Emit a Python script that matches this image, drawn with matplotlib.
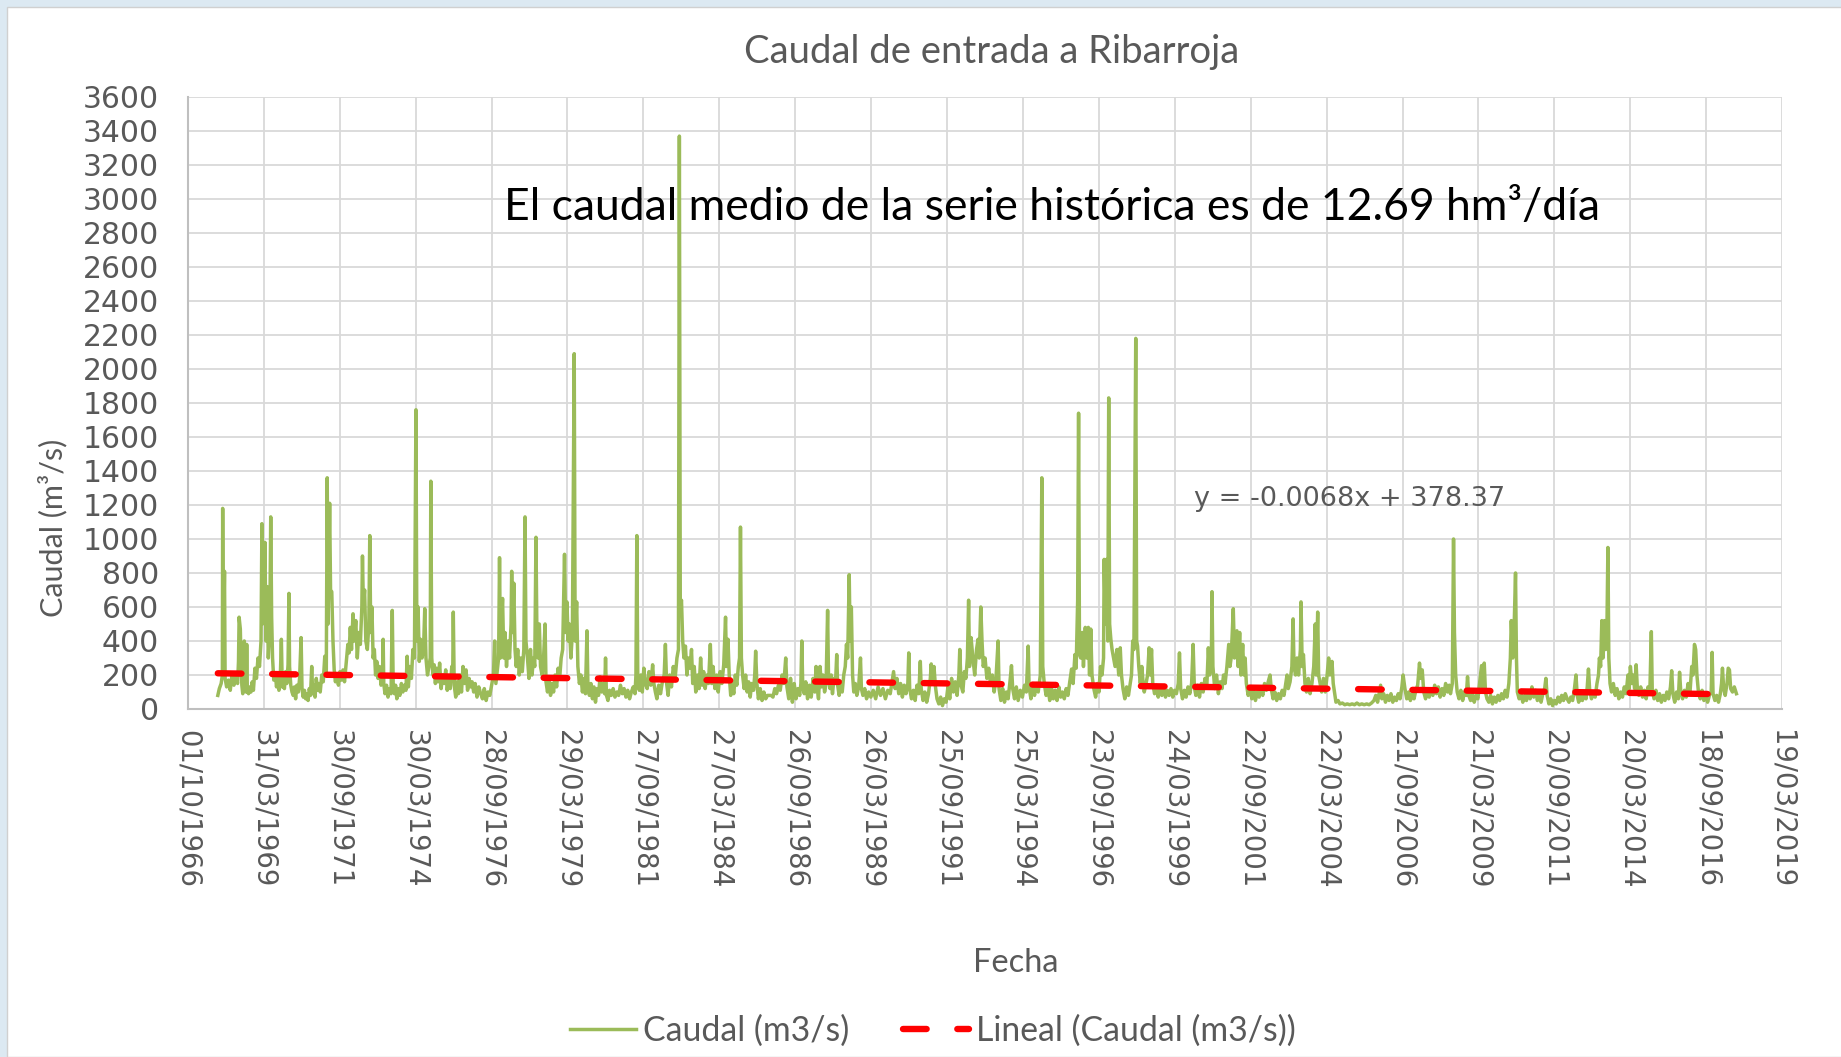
import matplotlib
matplotlib.use('Agg')
import matplotlib.pyplot as plt
import matplotlib.dates as mdates
import matplotlib.patches as mpatches
from datetime import datetime, timedelta

# ---------------- DATA ----------------
titulo = "Caudal de entrada a Ribarroja"
nota = "El caudal medio de la serie histórica es de 12.69 hm³/día"
ecuacion = "y = -0.0068x + 378.37"
pendiente = -0.0068
ordenada = 378.37

etiquetas_x = ["01/10/1966", "31/03/1969", "30/09/1971", "30/03/1974", "28/09/1976",
               "29/03/1979", "27/09/1981", "27/03/1984", "26/09/1986", "26/03/1989",
               "25/09/1991", "25/03/1994", "23/09/1996", "24/03/1999", "22/09/2001",
               "22/03/2004", "21/09/2006", "21/03/2009", "20/09/2011", "20/03/2014",
               "18/09/2016", "19/03/2019"]
ticks_y = list(range(0, 3601, 200))

# (decimal year, caudal m3/s)
caudal_1967_1971 = [
    (1967.73, 80), (1967.78, 120), (1967.84, 150), (1967.88, 200), (1967.89, 1180), (1967.91, 300),
    (1967.95, 810), (1967.97, 180), (1968.02, 130), (1968.08, 170), (1968.14, 110), (1968.20, 210),
    (1968.26, 140), (1968.32, 190), (1968.38, 150), (1968.41, 280), (1968.43, 540), (1968.47, 470),
    (1968.49, 300), (1968.52, 140), (1968.55, 90), (1968.58, 200), (1968.60, 400), (1968.62, 120),
    (1968.66, 100), (1968.68, 380), (1968.70, 110), (1968.74, 90), (1968.78, 130), (1968.82, 100),
    (1968.86, 160), (1968.90, 110), (1968.95, 240), (1969.00, 180), (1969.05, 300), (1969.10, 250),
    (1969.15, 400), (1969.18, 1090), (1969.20, 500), (1969.24, 700), (1969.28, 980), (1969.31, 400),
    (1969.35, 720), (1969.39, 300), (1969.44, 500), (1969.47, 1130), (1969.50, 540), (1969.53, 300),
    (1969.57, 170), (1969.62, 210), (1969.66, 130), (1969.70, 180), (1969.74, 110), (1969.78, 150),
    (1969.82, 410), (1969.85, 130), (1969.88, 200), (1969.92, 120), (1969.96, 220), (1970.00, 150),
    (1970.04, 260), (1970.07, 680), (1970.09, 250), (1970.13, 140), (1970.17, 100), (1970.21, 80),
    (1970.25, 130), (1970.29, 60), (1970.33, 140), (1970.38, 100), (1970.42, 180), (1970.47, 420),
    (1970.50, 120), (1970.54, 70), (1970.58, 110), (1970.62, 60), (1970.66, 90), (1970.70, 50),
    (1970.74, 120), (1970.78, 80), (1970.82, 250), (1970.85, 90), (1970.89, 140), (1970.93, 70),
    (1970.97, 180), (1971.01, 110), (1971.05, 150), (1971.10, 100), (1971.15, 200), (1971.20, 160),
    (1971.25, 310), (1971.30, 220), (1971.33, 1360), (1971.36, 500), (1971.41, 1210), (1971.44, 700),
    (1971.48, 690), (1971.52, 400), (1971.56, 230), (1971.60, 160), (1971.65, 200), (1971.70, 140),
    (1971.75, 220), (1971.80, 170), (1971.85, 230), (1971.90, 160), (1971.96, 280),
]

caudal_1972_1976 = [
    (1972.01, 380), (1972.05, 330), (1972.09, 480), (1972.13, 350), (1972.18, 560), (1972.22, 400),
    (1972.27, 520), (1972.32, 300), (1972.37, 450), (1972.42, 380), (1972.47, 600), (1972.49, 900),
    (1972.52, 600), (1972.56, 700), (1972.60, 400), (1972.65, 350), (1972.70, 500), (1972.73, 1020),
    (1972.76, 450), (1972.80, 600), (1972.84, 300), (1972.88, 350), (1972.92, 200), (1972.96, 280),
    (1973.00, 180), (1973.05, 250), (1973.10, 140), (1973.15, 200), (1973.17, 410), (1973.19, 150),
    (1973.23, 90), (1973.28, 140), (1973.33, 70), (1973.38, 120), (1973.43, 90), (1973.47, 580),
    (1973.50, 150), (1973.54, 90), (1973.58, 140), (1973.62, 60), (1973.67, 120), (1973.72, 80),
    (1973.77, 150), (1973.82, 100), (1973.87, 140), (1973.92, 110), (1973.96, 310), (1974.00, 130),
    (1974.05, 250), (1974.10, 180), (1974.15, 350), (1974.20, 300), (1974.25, 1760), (1974.28, 400),
    (1974.32, 600), (1974.36, 280), (1974.40, 410), (1974.45, 300), (1974.50, 350), (1974.54, 590),
    (1974.58, 300), (1974.63, 200), (1974.68, 250), (1974.72, 300), (1974.74, 1340), (1974.77, 300),
    (1974.81, 200), (1974.85, 260), (1974.89, 150), (1974.93, 240), (1974.98, 160), (1975.03, 270),
    (1975.08, 120), (1975.13, 200), (1975.18, 150), (1975.23, 230), (1975.28, 110), (1975.33, 180),
    (1975.38, 120), (1975.43, 250), (1975.46, 180), (1975.48, 570), (1975.51, 140), (1975.56, 70),
    (1975.60, 160), (1975.65, 90), (1975.70, 200), (1975.75, 100), (1975.80, 250), (1975.85, 150),
    (1975.90, 230), (1975.95, 110), (1976.00, 180), (1976.05, 130), (1976.10, 160), (1976.15, 100),
    (1976.20, 150), (1976.26, 70), (1976.32, 130), (1976.38, 90), (1976.44, 60), (1976.50, 120),
    (1976.56, 50), (1976.62, 100), (1976.68, 80), (1976.74, 140), (1976.80, 200), (1976.84, 400),
    (1976.88, 150), (1976.94, 250), (1976.97, 300),
]

caudal_1977_1986 = [
    (1977.00, 890), (1977.03, 300), (1977.06, 500), (1977.10, 650), (1977.14, 300), (1977.18, 450),
    (1977.23, 250), (1977.28, 400), (1977.33, 300), (1977.38, 500), (1977.40, 810), (1977.43, 450),
    (1977.47, 740), (1977.51, 350), (1977.55, 250), (1977.60, 350), (1977.65, 200), (1977.70, 300),
    (1977.75, 220), (1977.80, 350), (1977.84, 1130), (1977.87, 400), (1977.92, 300), (1977.97, 180),
    (1978.02, 350), (1978.07, 200), (1978.12, 300), (1978.16, 250), (1978.20, 1010), (1978.23, 450),
    (1978.27, 300), (1978.31, 500), (1978.35, 250), (1978.40, 200), (1978.45, 300), (1978.50, 500),
    (1978.53, 160), (1978.58, 100), (1978.63, 180), (1978.68, 80), (1978.73, 150), (1978.78, 100),
    (1978.83, 200), (1978.88, 130), (1978.93, 240), (1978.98, 180), (1979.03, 300), (1979.08, 350),
    (1979.14, 910), (1979.18, 450), (1979.22, 630), (1979.26, 400), (1979.30, 500), (1979.35, 300),
    (1979.40, 450), (1979.46, 2090), (1979.49, 400), (1979.54, 630), (1979.58, 250), (1979.63, 150),
    (1979.68, 200), (1979.73, 100), (1979.78, 180), (1979.83, 90), (1979.88, 460), (1979.91, 150),
    (1979.96, 80), (1980.01, 150), (1980.06, 60), (1980.11, 130), (1980.16, 40), (1980.21, 120),
    (1980.26, 80), (1980.31, 190), (1980.36, 100), (1980.41, 150), (1980.46, 90), (1980.49, 300),
    (1980.52, 80), (1980.57, 50), (1980.62, 110), (1980.68, 80), (1980.74, 120), (1980.80, 70),
    (1980.86, 100), (1980.92, 80), (1980.98, 140), (1981.04, 90), (1981.10, 120), (1981.16, 70),
    (1981.22, 110), (1981.28, 60), (1981.34, 100), (1981.40, 130), (1981.46, 90), (1981.49, 200),
    (1981.52, 1020), (1981.55, 180), (1981.60, 110), (1981.65, 200), (1981.70, 100), (1981.75, 240),
    (1981.80, 150), (1981.86, 120), (1981.92, 220), (1981.98, 140), (1982.04, 260), (1982.08, 150),
    (1982.13, 100), (1982.18, 60), (1982.24, 140), (1982.30, 90), (1982.36, 160), (1982.42, 200),
    (1982.46, 380), (1982.50, 150), (1982.55, 80), (1982.60, 200), (1982.66, 130), (1982.72, 250),
    (1982.78, 180), (1982.84, 300), (1982.89, 350), (1982.92, 3370), (1982.95, 600), (1982.99, 640),
    (1983.03, 400), (1983.07, 300), (1983.12, 370), (1983.17, 200), (1983.22, 300), (1983.27, 240),
    (1983.32, 350), (1983.36, 150), (1983.41, 250), (1983.46, 100), (1983.52, 200), (1983.57, 120),
    (1983.62, 300), (1983.67, 140), (1983.72, 220), (1983.77, 120), (1983.83, 200), (1983.88, 150),
    (1983.94, 380), (1983.98, 150), (1984.03, 250), (1984.09, 120), (1984.15, 200), (1984.20, 100),
    (1984.26, 220), (1984.32, 150), (1984.38, 260), (1984.44, 540), (1984.47, 250), (1984.52, 410),
    (1984.56, 200), (1984.61, 80), (1984.66, 150), (1984.71, 90), (1984.76, 200), (1984.81, 140),
    (1984.86, 250), (1984.90, 300), (1984.93, 1070), (1984.96, 300), (1985.00, 200), (1985.05, 120),
    (1985.10, 200), (1985.15, 100), (1985.20, 160), (1985.25, 70), (1985.30, 150), (1985.36, 110),
    (1985.40, 200), (1985.43, 340), (1985.47, 150), (1985.52, 60), (1985.58, 120), (1985.64, 50),
    (1985.70, 100), (1985.76, 60), (1985.82, 80), (1985.88, 80), (1985.94, 80), (1986.00, 70),
    (1986.06, 120), (1986.12, 90), (1986.18, 140), (1986.24, 110), (1986.30, 200), (1986.36, 150),
    (1986.42, 300), (1986.46, 130), (1986.52, 60), (1986.58, 180), (1986.64, 40), (1986.70, 150),
    (1986.76, 60), (1986.82, 120), (1986.88, 80), (1986.92, 150), (1986.95, 400), (1986.98, 140),
]

caudal_1987_1997 = [
    (1987.03, 90), (1987.08, 160), (1987.14, 60), (1987.20, 140), (1987.26, 70), (1987.32, 180),
    (1987.38, 100), (1987.42, 250), (1987.46, 120), (1987.50, 60), (1987.55, 250), (1987.60, 130),
    (1987.65, 200), (1987.70, 100), (1987.75, 150), (1987.80, 580), (1987.83, 180), (1987.88, 120),
    (1987.92, 200), (1987.96, 90), (1988.01, 180), (1988.06, 150), (1988.10, 320), (1988.13, 140),
    (1988.18, 80), (1988.23, 160), (1988.28, 100), (1988.33, 200), (1988.38, 250), (1988.42, 380),
    (1988.46, 300), (1988.51, 790), (1988.54, 400), (1988.58, 600), (1988.62, 200), (1988.66, 100),
    (1988.71, 150), (1988.76, 80), (1988.82, 130), (1988.88, 300), (1988.91, 120), (1988.96, 80),
    (1989.02, 120), (1989.08, 60), (1989.15, 100), (1989.22, 70), (1989.30, 110), (1989.38, 60),
    (1989.46, 130), (1989.54, 80), (1989.62, 120), (1989.70, 60), (1989.78, 110), (1989.86, 90),
    (1989.92, 160), (1989.97, 220), (1990.02, 120), (1990.08, 180), (1990.14, 90), (1990.20, 150),
    (1990.26, 70), (1990.32, 140), (1990.38, 90), (1990.44, 150), (1990.47, 330), (1990.50, 120),
    (1990.56, 60), (1990.62, 110), (1990.68, 50), (1990.74, 140), (1990.80, 90), (1990.85, 280),
    (1990.88, 120), (1990.94, 50), (1991.00, 100), (1991.06, 40), (1991.12, 90), (1991.18, 180),
    (1991.21, 265), (1991.25, 150), (1991.30, 250), (1991.35, 130), (1991.40, 60), (1991.46, 30),
    (1991.52, 70), (1991.58, 20), (1991.64, 60), (1991.70, 40), (1991.76, 130), (1991.82, 60),
    (1991.88, 180), (1991.94, 100), (1992.00, 160), (1992.06, 80), (1992.12, 200), (1992.15, 350),
    (1992.19, 140), (1992.25, 100), (1992.30, 220), (1992.35, 180), (1992.40, 300), (1992.44, 640),
    (1992.47, 250), (1992.52, 420), (1992.58, 300), (1992.64, 200), (1992.70, 350), (1992.75, 410),
    (1992.79, 300), (1992.84, 600), (1992.88, 400), (1992.92, 250), (1992.98, 300), (1993.04, 180),
    (1993.10, 240), (1993.16, 150), (1993.22, 200), (1993.28, 100), (1993.34, 180), (1993.41, 400),
    (1993.44, 120), (1993.50, 50), (1993.56, 120), (1993.62, 40), (1993.68, 100), (1993.74, 60),
    (1993.80, 160), (1993.85, 255), (1993.89, 120), (1993.95, 60), (1994.01, 130), (1994.07, 50),
    (1994.14, 110), (1994.21, 70), (1994.28, 140), (1994.34, 100), (1994.40, 370), (1994.43, 130),
    (1994.49, 60), (1994.55, 140), (1994.61, 80), (1994.67, 150), (1994.73, 100), (1994.80, 200),
    (1994.85, 1360), (1994.88, 250), (1994.93, 150), (1994.99, 80), (1995.05, 130), (1995.11, 50),
    (1995.17, 120), (1995.23, 60), (1995.29, 110), (1995.35, 50), (1995.41, 130), (1995.47, 70),
    (1995.53, 100), (1995.59, 60), (1995.65, 120), (1995.71, 80), (1995.77, 160), (1995.83, 235),
    (1995.88, 150), (1995.94, 320), (1995.98, 240), (1996.03, 640), (1996.06, 1740), (1996.09, 320),
    (1996.13, 300), (1996.18, 450), (1996.22, 250), (1996.28, 480), (1996.33, 300), (1996.38, 480),
    (1996.42, 200), (1996.46, 470), (1996.50, 200), (1996.56, 120), (1996.62, 70), (1996.68, 150),
    (1996.73, 100), (1996.78, 250), (1996.83, 200), (1996.88, 300), (1996.90, 880), (1996.94, 500),
    (1996.98, 880), (1997.02, 400), (1997.05, 1830), (1997.08, 500), (1997.12, 410), (1997.16, 350),
    (1997.21, 300), (1997.26, 250), (1997.32, 350), (1997.38, 200), (1997.43, 360), (1997.47, 200),
    (1997.52, 120), (1997.58, 60), (1997.64, 130), (1997.70, 80), (1997.76, 150), (1997.80, 200),
    (1997.84, 400), (1997.88, 350), (1997.94, 2180), (1997.97, 400),
]

caudal_1998_2007 = [
    (1998.00, 370), (1998.04, 250), (1998.09, 150), (1998.14, 250), (1998.18, 160), (1998.22, 100),
    (1998.28, 150), (1998.33, 200), (1998.38, 360), (1998.42, 200), (1998.46, 350), (1998.50, 150),
    (1998.56, 90), (1998.62, 140), (1998.68, 70), (1998.74, 120), (1998.80, 80), (1998.86, 130),
    (1998.92, 70), (1998.98, 110), (1999.04, 80), (1999.10, 120), (1999.16, 70), (1999.22, 110),
    (1999.28, 90), (1999.34, 150), (1999.38, 330), (1999.42, 120), (1999.48, 60), (1999.54, 110),
    (1999.60, 70), (1999.66, 130), (1999.72, 90), (1999.78, 150), (1999.83, 380), (1999.87, 130),
    (1999.92, 80), (1999.98, 140), (2000.04, 70), (2000.10, 150), (2000.16, 100), (2000.22, 180),
    (2000.28, 130), (2000.33, 360), (2000.37, 200), (2000.43, 300), (2000.45, 690), (2000.48, 250),
    (2000.54, 120), (2000.60, 200), (2000.66, 90), (2000.72, 160), (2000.78, 120), (2000.83, 200),
    (2000.88, 150), (2000.94, 250), (2001.00, 380), (2001.04, 250), (2001.08, 300), (2001.15, 590),
    (2001.19, 300), (2001.24, 420), (2001.27, 460), (2001.31, 250), (2001.36, 450), (2001.40, 200),
    (2001.46, 380), (2001.50, 200), (2001.54, 300), (2001.58, 150), (2001.64, 80), (2001.70, 130),
    (2001.76, 60), (2001.82, 110), (2001.88, 50), (2001.94, 100), (2002.00, 70), (2002.06, 130),
    (2002.12, 80), (2002.18, 150), (2002.24, 110), (2002.30, 160), (2002.36, 200), (2002.40, 120),
    (2002.46, 60), (2002.52, 100), (2002.58, 50), (2002.64, 90), (2002.70, 60), (2002.76, 110),
    (2002.82, 80), (2002.88, 150), (2002.92, 200), (2002.96, 120), (2003.02, 160), (2003.08, 250),
    (2003.12, 530), (2003.15, 250), (2003.20, 200), (2003.25, 300), (2003.30, 200), (2003.36, 350),
    (2003.38, 630), (2003.42, 250), (2003.46, 320), (2003.51, 150), (2003.56, 100), (2003.62, 180),
    (2003.68, 90), (2003.74, 150), (2003.80, 250), (2003.85, 500), (2003.88, 200), (2003.93, 570),
    (2003.96, 200), (2004.01, 150), (2004.06, 100), (2004.12, 180), (2004.18, 100), (2004.24, 200),
    (2004.29, 300), (2004.33, 200), (2004.40, 280), (2004.44, 150), (2004.48, 100), (2004.53, 40),
    (2004.60, 50), (2004.66, 30), (2004.74, 35), (2004.82, 25), (2004.90, 30), (2004.98, 25),
    (2005.06, 30), (2005.14, 25), (2005.22, 35), (2005.30, 25), (2005.38, 30), (2005.46, 25),
    (2005.54, 30), (2005.62, 25), (2005.70, 35), (2005.78, 50), (2005.84, 80), (2005.90, 40),
    (2005.96, 100), (2006.00, 140), (2006.04, 60), (2006.10, 90), (2006.16, 40), (2006.22, 80),
    (2006.28, 50), (2006.34, 90), (2006.40, 40), (2006.46, 70), (2006.52, 50), (2006.58, 90),
    (2006.64, 60), (2006.70, 130), (2006.74, 200), (2006.80, 120), (2006.86, 60), (2006.92, 100),
    (2006.98, 50), (2007.04, 90), (2007.10, 60), (2007.16, 110), (2007.22, 140), (2007.28, 270),
    (2007.32, 180), (2007.37, 230), (2007.42, 100), (2007.48, 60), (2007.54, 110), (2007.60, 70),
    (2007.66, 120), (2007.72, 80), (2007.78, 140), (2007.84, 90), (2007.90, 130), (2007.96, 70),
]

caudal_2008_2017 = [
    (2008.02, 120), (2008.08, 80), (2008.14, 150), (2008.20, 100), (2008.26, 140), (2008.30, 90),
    (2008.36, 150), (2008.40, 1000), (2008.43, 450), (2008.47, 200), (2008.52, 100), (2008.58, 60),
    (2008.64, 110), (2008.70, 50), (2008.76, 100), (2008.82, 80), (2008.86, 190), (2008.90, 80),
    (2008.96, 50), (2009.02, 90), (2009.08, 40), (2009.14, 80), (2009.20, 60), (2009.26, 160),
    (2009.32, 255), (2009.36, 120), (2009.41, 270), (2009.45, 100), (2009.50, 60), (2009.56, 40),
    (2009.62, 80), (2009.68, 30), (2009.74, 70), (2009.80, 40), (2009.86, 80), (2009.92, 50),
    (2009.98, 90), (2010.04, 60), (2010.10, 110), (2010.16, 70), (2010.22, 150), (2010.27, 300),
    (2010.30, 520), (2010.35, 300), (2010.40, 520), (2010.44, 800), (2010.47, 300), (2010.50, 100),
    (2010.56, 60), (2010.62, 90), (2010.68, 40), (2010.74, 80), (2010.80, 50), (2010.86, 100),
    (2010.92, 60), (2010.98, 130), (2011.04, 70), (2011.10, 110), (2011.16, 50), (2011.22, 80),
    (2011.28, 40), (2011.34, 90), (2011.40, 120), (2011.44, 180), (2011.48, 80), (2011.54, 30),
    (2011.60, 60), (2011.66, 20), (2011.72, 50), (2011.78, 30), (2011.84, 70), (2011.90, 40),
    (2011.96, 80), (2012.02, 50), (2012.08, 90), (2012.14, 60), (2012.20, 40), (2012.26, 70),
    (2012.32, 50), (2012.38, 120), (2012.43, 200), (2012.47, 80), (2012.52, 40), (2012.58, 80),
    (2012.64, 50), (2012.70, 90), (2012.76, 60), (2012.80, 130), (2012.84, 235), (2012.88, 110),
    (2012.94, 60), (2013.00, 100), (2013.06, 70), (2013.12, 150), (2013.17, 200), (2013.20, 300),
    (2013.24, 250), (2013.28, 520), (2013.32, 300), (2013.37, 520), (2013.41, 350), (2013.45, 500),
    (2013.48, 950), (2013.51, 300), (2013.55, 150), (2013.60, 100), (2013.66, 150), (2013.72, 80),
    (2013.78, 120), (2013.84, 60), (2013.90, 100), (2013.96, 70), (2014.02, 130), (2014.08, 90),
    (2014.14, 200), (2014.18, 120), (2014.22, 250), (2014.27, 150), (2014.31, 200), (2014.36, 120),
    (2014.41, 260), (2014.45, 120), (2014.50, 80), (2014.56, 130), (2014.62, 70), (2014.68, 110),
    (2014.74, 60), (2014.80, 130), (2014.86, 90), (2014.91, 455), (2014.94, 110), (2015.00, 60),
    (2015.06, 110), (2015.12, 50), (2015.18, 90), (2015.24, 40), (2015.30, 80), (2015.36, 50),
    (2015.42, 100), (2015.48, 60), (2015.54, 130), (2015.58, 225), (2015.62, 90), (2015.68, 40),
    (2015.74, 100), (2015.80, 60), (2015.84, 216), (2015.88, 100), (2015.94, 60), (2016.00, 110),
    (2016.06, 70), (2016.12, 150), (2016.18, 90), (2016.24, 250), (2016.28, 200), (2016.33, 380),
    (2016.37, 350), (2016.41, 200), (2016.46, 100), (2016.52, 60), (2016.58, 110), (2016.64, 50),
    (2016.70, 90), (2016.76, 40), (2016.82, 80), (2016.88, 100), (2016.91, 333), (2016.94, 90),
    (2017.00, 50), (2017.06, 80), (2017.12, 40), (2017.18, 90), (2017.22, 150), (2017.25, 240),
    (2017.29, 120), (2017.34, 80), (2017.40, 150), (2017.44, 240), (2017.48, 230), (2017.52, 120),
    (2017.58, 100), (2017.64, 130), (2017.71, 90),
]

# ---------------- HELPERS ----------------
def a_fecha(anio):
    yi = int(anio)
    ini = datetime(yi, 1, 1)
    ndias = (datetime(yi + 1, 1, 1) - ini).days
    return ini + timedelta(days=(anio - yi) * ndias)

serie = caudal_1967_1971 + caudal_1972_1976 + caudal_1977_1986 + caudal_1987_1997 + caudal_1998_2007 + caudal_2008_2017
fechas = [a_fecha(a) for a, _ in serie]
valores = [v for _, v in serie]
xnum = mdates.date2num(fechas)

excel_origen = datetime(1899, 12, 30)
f_ini, f_fin = fechas[0], fechas[-1]
trend_x = mdates.date2num([f_ini, f_fin])
trend_y = [pendiente * (f - excel_origen).days + ordenada for f in (f_ini, f_fin)]

tick_fechas = [datetime.strptime(s, "%d/%m/%Y") for s in etiquetas_x]
tick_num = mdates.date2num(tick_fechas)

# ---------------- FIGURE ----------------
W, H = 1841, 1057
fig = plt.figure(figsize=(W / 100, H / 100), dpi=100)
fig.patch.set_facecolor('#dce9f2')
fig.add_artist(mpatches.Rectangle((7 / W, 0), 1, 1 - 7 / H, transform=fig.transFigure,
                                  facecolor='white', edgecolor='#d0d0d0', lw=1.0, zorder=0))

def fx(px):
    return px / W

def fy(py):
    return 1 - py / H

ax = fig.add_axes([fx(188), fy(709), (1782 - 188) / W, (709 - 97) / H])
ax.set_facecolor('white')

linea, = ax.plot(xnum, valores, color='#9BBB59', lw=2.5, solid_joinstyle='round',
                 label='Caudal (m3/s)', zorder=3)
tend, = ax.plot(trend_x, trend_y, color='#FF0000', lw=4.6, ls=(0, (3.7, 4.8)),
                dash_capstyle='round', label='Lineal (Caudal (m3/s))', zorder=4)

ax.set_xlim(tick_num[0], tick_num[-1])
ax.set_ylim(0, 3600)
ax.set_xticks(tick_num)
ax.set_xticklabels(etiquetas_x, rotation=270, fontsize=19.8, color='#595959', family='DejaVu Sans')
ax.set_yticks(ticks_y)
ax.set_yticklabels([str(t) for t in ticks_y], fontsize=21.5, color='#595959', family='DejaVu Sans')
ax.tick_params(axis='both', length=0)
ax.tick_params(axis='y', pad=21)
ax.tick_params(axis='x', pad=15)
ax.grid(True, color='#d9d9d9', lw=1.3)
ax.set_axisbelow(True)
for s in ('top', 'right'):
    ax.spines[s].set_visible(False)
for s in ('left', 'bottom'):
    ax.spines[s].set_color('#bfbfbf')
    ax.spines[s].set_linewidth(1.5)

# texts
fig.text(fx(992), fy(52), titulo, ha='center', va='center', fontsize=27.5, color='#595959', family='Lato')
fig.text(fx(1052), fy(208), nota, ha='center', va='center', fontsize=32, color='black', family='Lato')
fig.text(fx(1350), fy(499), ecuacion, ha='center', va='center', fontsize=19.5, color='#595959',
         family='DejaVu Sans')
fig.text(fx(53), fy(528), 'Caudal (m³/s)', ha='center', va='center', rotation=90, fontsize=22,
         color='#595959', family='Lato')
fig.text(fx(1016), fy(963), 'Fecha', ha='center', va='center', fontsize=23.5, color='#595959', family='Lato')

leg = fig.legend(handles=[linea, tend], loc='center', bbox_to_anchor=(fx(933), fy(1031)), ncol=2,
                 frameon=False, handlelength=1.95, handletextpad=0.21, columnspacing=1.6,
                 prop={'family': 'Lato', 'size': 24.3})
for t in leg.get_texts():
    t.set_color('#595959')

fig.savefig('out.png', dpi=100)
